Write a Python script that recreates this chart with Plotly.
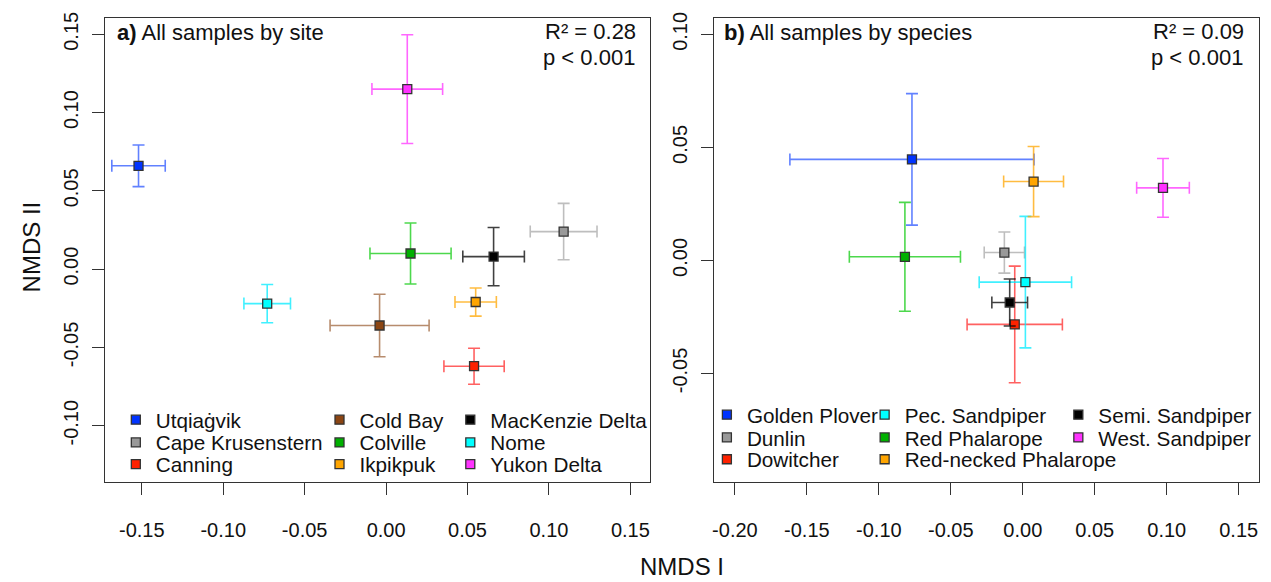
import plotly.graph_objects as go

# ---------------- data ----------------
site_names = ["Utqiaġvik", "Cape Krusenstern", "Canning",
              "Cold Bay", "Colville", "Ikpikpuk",
              "MacKenzie Delta", "Nome", "Yukon Delta"]
site_x = [-0.152, 0.109, 0.054, -0.004, 0.015, 0.055, 0.066, -0.073, 0.013]
site_y = [0.066, 0.024, -0.062, -0.036, 0.010, -0.021, 0.008, -0.022, 0.115]
site_xerr = [0.0164, 0.0205, 0.0185, 0.0304, 0.0249, 0.0127, 0.0189, 0.0143, 0.0217]
site_yerr = [0.0133, 0.0180, 0.0115, 0.0200, 0.0195, 0.0090, 0.0186, 0.0122, 0.0347]

species_names = ["Golden Plover", "Dunlin", "Dowitcher",
                 "Pec. Sandpiper", "Red Phalarope", "Red-necked Phalarope",
                 "Semi. Sandpiper", "West. Sandpiper"]
sp_x = [-0.077, -0.0128, -0.0056, 0.0018, -0.0819, 0.0075, -0.0091, 0.0974]
sp_y = [0.0447, 0.0035, -0.0283, -0.0096, 0.0016, 0.0349, -0.0186, 0.0321]
sp_xerr = [0.0848, 0.0140, 0.0331, 0.0321, 0.0386, 0.0208, 0.0124, 0.0183]
sp_yerr = [0.0291, 0.0091, 0.0258, 0.0291, 0.0241, 0.0155, 0.0104, 0.0130]

x1_ticks = [-0.15, -0.10, -0.05, 0.00, 0.05, 0.10, 0.15]
x1_labels = ["-0.15", "-0.10", "-0.05", "0.00", "0.05", "0.10", "0.15"]
y1_ticks = [-0.10, -0.05, 0.00, 0.05, 0.10, 0.15]
y1_labels = ["-0.10", "-0.05", "0.00", "0.05", "0.10", "0.15"]
x2_ticks = [-0.20, -0.15, -0.10, -0.05, 0.00, 0.05, 0.10, 0.15]
x2_labels = ["-0.20", "-0.15", "-0.10", "-0.05", "0.00", "0.05", "0.10", "0.15"]
y2_ticks = [-0.05, 0.00, 0.05, 0.10]
y2_labels = ["-0.05", "0.00", "0.05", "0.10"]

# ---------------- styles ----------------
W, H = 1271, 582
FONT = "Liberation Sans, Arial, Helvetica, sans-serif"

COL = {
    "blue": ("#0033ff", "rgba(0,51,255,0.62)"),
    "gray": ("#999999", "rgba(150,150,150,0.62)"),
    "red": ("#ff2200", "rgba(255,0,0,0.62)"),
    "brown": ("#8b4513", "rgba(139,69,19,0.62)"),
    "green": ("#00b000", "rgba(0,200,0,0.7)"),
    "orange": ("#ffa500", "rgba(255,165,0,0.75)"),
    "black": ("#000000", "rgba(0,0,0,0.75)"),
    "cyan": ("#00ffff", "rgba(0,235,255,0.75)"),
    "magenta": ("#ff33ff", "rgba(255,0,255,0.6)"),
}
site_cols = ["blue", "gray", "red", "brown", "green", "orange", "black", "cyan", "magenta"]
sp_cols = ["blue", "gray", "red", "cyan", "green", "orange", "black", "magenta"]

# legend layout (pixel positions of the legend text start and row centre)
left_cols_px = [154, 358, 489]
left_rows_px = [418, 441, 463]
right_cols_px = [746, 904, 1098]
right_rows_px = [413, 436, 458]

fig = go.Figure()
legend_layouts = {}
lid = 0


def add_group(names, xs, ys, xe, ye, cols, xa, ya, colpx, rowpx):
    global lid
    for i, name in enumerate(names):
        lid += 1
        key = "legend" if lid == 1 else f"legend{lid}"
        mc, ec = COL[cols[i]]
        fig.add_trace(go.Scatter(
            x=[xs[i]], y=[ys[i]], mode="markers", name=name,
            xaxis=xa, yaxis=ya, legend=key,
            marker=dict(symbol="square", size=9, color=mc,
                        line=dict(color="#333333", width=1.3)),
            error_x=dict(type="data", array=[xe[i]], color=ec, thickness=1.6, width=6),
            error_y=dict(type="data", array=[ye[i]], color=ec, thickness=1.6, width=6),
        ))
        c, r = divmod(i, 3)
        legend_layouts[key] = dict(
            x=(colpx[c] - 40) / W, y=1 - rowpx[r] / H,
            xanchor="left", yanchor="middle",
            bgcolor="rgba(0,0,0,0)", borderwidth=0,
            font=dict(family=FONT, size=20.7, color="#111111"),
        )


add_group(site_names, site_x, site_y, site_xerr, site_yerr, site_cols,
          "x", "y", left_cols_px, left_rows_px)
add_group(species_names, sp_x, sp_y, sp_xerr, sp_yerr, sp_cols,
          "x2", "y2", right_cols_px, right_rows_px)

axis_common = dict(
    showline=True, mirror=True, linecolor="#333333", linewidth=1.2,
    ticks="outside", ticklen=12, tickwidth=1, tickcolor="#333333",
    showgrid=False, zeroline=False,
    tickfont=dict(family=FONT, size=20, color="#111111"),
)

ydom = [1 - 480.7 / H, 1 - 12 / H]
fig.update_layout(
    width=W, height=H,
    margin=dict(l=0, r=0, t=0, b=0),
    paper_bgcolor="white", plot_bgcolor="white",
    showlegend=True,
    xaxis=dict(domain=[103.3 / W, 649.3 / W], range=[-0.1725, 0.1622],
               tickvals=x1_ticks, ticktext=x1_labels, ticklabelstandoff=18,
               anchor="y", **axis_common),
    yaxis=dict(domain=ydom, range=[-0.1358, 0.1605],
               tickvals=y1_ticks, ticktext=y1_labels, tickangle=-90,
               ticklabelstandoff=6, anchor="x", **axis_common),
    xaxis2=dict(domain=[713.3 / W, 1258.7 / W], range=[-0.2144, 0.1639],
                tickvals=x2_ticks, ticktext=x2_labels, ticklabelstandoff=18,
                anchor="y2", **axis_common),
    yaxis2=dict(domain=ydom, range=[-0.0979, 0.1073],
                tickvals=y2_ticks, ticktext=y2_labels, tickangle=-90,
                ticklabelstandoff=6, anchor="x2", **axis_common),
    **legend_layouts,
)

ann_font = dict(family=FONT, size=22, color="#111111")
annotations = [
    dict(text="<b>a)</b> All samples by site", x=113 / W, y=1 - 27 / H,
         xanchor="left", yanchor="middle"),
    dict(text="R² = 0.28", x=637 / W, y=1 - 26 / H, xanchor="right", yanchor="middle"),
    dict(text="p < 0.001", x=636 / W, y=1 - 52 / H, xanchor="right", yanchor="middle"),
    dict(text="<b>b)</b> All samples by species", x=721 / W, y=1 - 27 / H,
         xanchor="left", yanchor="middle"),
    dict(text="R² = 0.09", x=1246 / W, y=1 - 26 / H, xanchor="right", yanchor="middle"),
    dict(text="p < 0.001", x=1245 / W, y=1 - 52 / H, xanchor="right", yanchor="middle"),
    dict(text="NMDS I", x=681 / W, y=1 - 566 / H, xanchor="center", yanchor="middle",
         font=dict(family=FONT, size=24, color="#111111")),
    dict(text="NMDS II", x=30 / W, y=1 - 243 / H, xanchor="center", yanchor="middle",
         textangle=-90, font=dict(family=FONT, size=24, color="#111111")),
]
for a in annotations:
    a.setdefault("font", ann_font)
    a.update(xref="paper", yref="paper", showarrow=False)
fig.update_layout(annotations=annotations)

fig.write_html("out.html",
               config={"displayModeBar": False},
               post_script="document.body.style.margin='0px';document.body.style.overflow='hidden';")
